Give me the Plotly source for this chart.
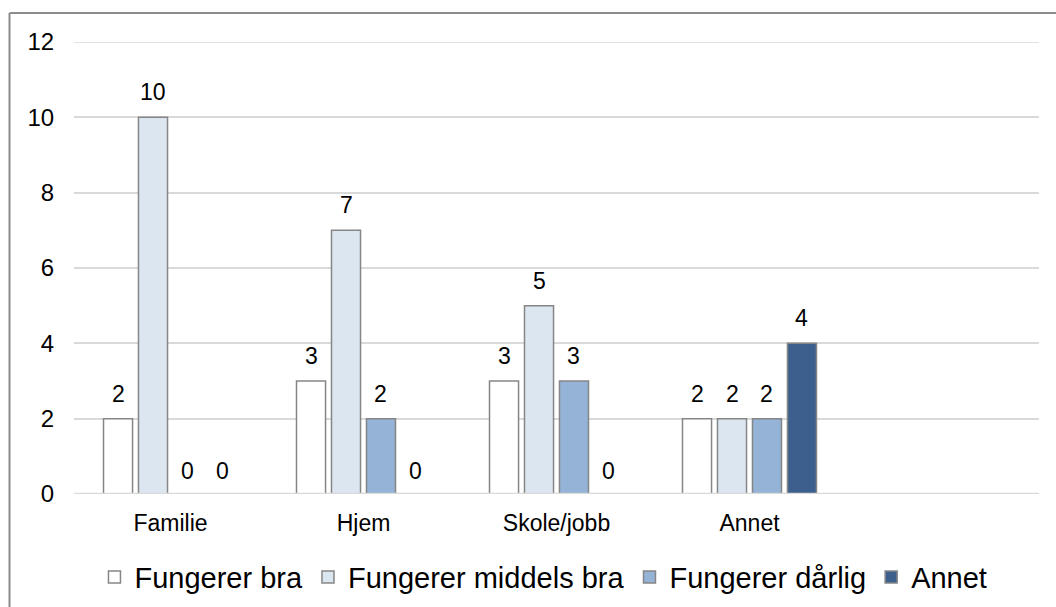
import plotly.graph_objects as go

# ---- data ----
categories = ["Familie", "Hjem", "Skole/jobb", "Annet"]
series_names = ["Fungerer bra", "Fungerer middels bra", "Fungerer dårlig", "Annet"]
fungerer_bra = [2, 3, 3, 2]
fungerer_middels_bra = [10, 7, 5, 2]
fungerer_darlig = [0, 2, 3, 2]
annet = [0, 0, 0, 4]
y_ticks = [0, 2, 4, 6, 8, 10, 12]

series_values = [fungerer_bra, fungerer_middels_bra, fungerer_darlig, annet]
colors = ["#ffffff", "#dce6f1", "#95b3d7", "#3d5f8e"]

FONT = "Liberation Sans, Arial, sans-serif"
W, H = 1056, 607
ML, MR, MT, MB = 74, 17, 42, 113
BARGAP = 0.275
BARGROUPGAP = 0.17
N_SLOTS = 5  # axis spans one empty category slot on the right

fig = go.Figure()
for name, vals, col in zip(series_names, series_values, colors):
    fig.add_trace(go.Bar(
        name=name, x=categories, y=vals,
        marker=dict(color=col, line=dict(color="#868686", width=1.5)),
    ))

# value labels (annotations placed over each bar via axis scale)
plot_w = W - ML - MR
slot_px = plot_w / N_SLOTS * (1 - BARGAP) / len(series_names)
annotations = []
for i, vals in enumerate(series_values):
    for cat, v in zip(categories, vals):
        annotations.append(dict(
            x=cat, y=v, xref="x", yref="y", text=str(v), showarrow=False,
            xanchor="center", yanchor="bottom",
            xshift=(i - (len(series_names) - 1) / 2) * slot_px,
            yshift=10 if v else 8,
            font=dict(family=FONT, size=23, color="#000000"),
        ))

# outer chart border (Excel chart-area frame) + baseline drawn over bar bottoms
ph = H - MT - MB
bx = (9.5 - ML) / plot_w
by = (H - MB - 13) / ph
shapes = [
    dict(type="line", xref="paper", yref="paper", x0=bx, x1=bx, y0=by, y1=-1,
         line=dict(color="#8c8c8c", width=2)),
    dict(type="line", xref="paper", yref="paper", x0=bx, x1=2, y0=by, y1=by,
         line=dict(color="#8c8c8c", width=2)),
    dict(type="line", xref="paper", yref="y", x0=0, x1=1, y0=0, y1=0,
         line=dict(color="#d9d9d9", width=2.5), layer="above"),
]

fig.update_layout(
    width=W, height=H,
    margin=dict(l=ML, r=MR, t=MT, b=MB, pad=0, autoexpand=False),
    paper_bgcolor="#ffffff", plot_bgcolor="#ffffff",
    barmode="group", bargap=BARGAP, bargroupgap=BARGROUPGAP,
    font=dict(family=FONT, size=23, color="#000000"),
    showlegend=True,
    legend=dict(orientation="h", x=0.4865, xanchor="center", y=-0.184, yanchor="middle",
                font=dict(family=FONT, size=29, color="#000000"),
                bgcolor="rgba(0,0,0,0)", traceorder="normal"),
    annotations=annotations,
    shapes=shapes,
)
fig.update_xaxes(
    type="category", categoryorder="array", categoryarray=categories,
    range=[-0.5, N_SLOTS - 0.5],
    showgrid=False, showline=False, mirror=False,
    ticks="outside", ticklen=8, tickcolor="rgba(0,0,0,0)",
    tickfont=dict(family=FONT, size=23, color="#000000"),
    fixedrange=True,
)
fig.update_yaxes(
    range=[0, 12], tickvals=y_ticks, ticktext=[str(t) for t in y_ticks],
    showgrid=True, gridcolor="#d9d9d9", gridwidth=1.5,
    zeroline=False, showline=True, mirror=False, linecolor="rgba(0,0,0,0)",
    ticks="outside", ticklen=14, tickcolor="rgba(0,0,0,0)",
    tickfont=dict(family=FONT, size=24, color="#000000"),
    fixedrange=True,
)
# top gridline at 12 (Plotly omits the gridline on the range edge)
fig.add_shape(type="line", xref="paper", yref="y", x0=0, x1=1, y0=y_ticks[-1], y1=y_ticks[-1],
              line=dict(color="#d9d9d9", width=1.5), layer="below")

fig.write_html("out.html", config={"displayModeBar": False},
               post_script="document.body.style.margin='0';document.body.style.overflow='hidden';")
